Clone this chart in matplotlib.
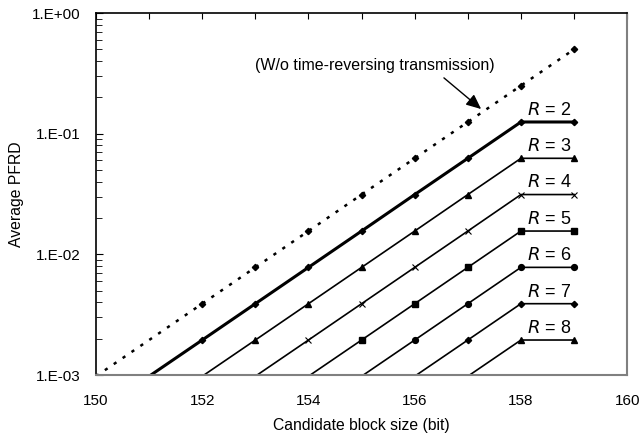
import matplotlib
matplotlib.use("Agg")
from matplotlib import pyplot as plt
from matplotlib.ticker import FixedLocator, FixedFormatter, LogLocator, NullFormatter

plt.rcParams['font.family'] = ['Liberation Sans', 'DejaVu Sans']

blockSize = [150, 151, 152, 153, 154, 155, 156, 157, 158, 159]
woTimeRev = [0.000977, 0.00195, 0.0039, 0.0078, 0.0156, 0.0313, 0.0625, 0.125, 0.25, 0.5]
R2 = [0.000488, 0.000977, 0.00195, 0.0039, 0.0078, 0.0156, 0.0313, 0.0625, 0.125, 0.125]
R3 = [0.000244, 0.000488, 0.000977, 0.00195, 0.0039, 0.0078, 0.0156, 0.0313, 0.0625, 0.0625]
R4 = [0.000122, 0.000244, 0.000488, 0.000977, 0.00195, 0.0039, 0.0078, 0.0156, 0.0313, 0.0313]
R5 = [0.000061, 0.000122, 0.000244, 0.000488, 0.000977, 0.00195, 0.0039, 0.0078, 0.0156, 0.0156]
R6 = [0.000031, 0.000061, 0.000122, 0.000244, 0.000488, 0.000977, 0.00195, 0.0039, 0.0078, 0.0078]
R7 = [0.000015, 0.000031, 0.000061, 0.000122, 0.000244, 0.000488, 0.000977, 0.00195, 0.0039, 0.0039]
R8 = [0.0000076, 0.000015, 0.000031, 0.000061, 0.000122, 0.000244, 0.000488, 0.000977, 0.00195, 0.00195]
rNames = ["2", "3", "4", "5", "6", "7", "8"]
rSeries = [R2, R3, R4, R5, R6, R7, R8]
rMarkers = ["D", "^", "x", "s", "o", "D", "^"]
rMsize = [3.2, 5, 5, 4.5, 4.2, 3.2, 5]
xTicks = [150, 151, 152, 153, 154, 155, 156, 157, 158, 159, 160]
xLabels = ["150", "", "152", "", "154", "", "156", "", "158", "", "160"]
yTicks = [0.001, 0.01, 0.1, 1.0]
yLabels = ["1.E-03", "1.E-02", "1.E-01", "1.E+00"]

def visible(vals):
    return [i for i, v in enumerate(vals) if v >= 0.001]

fig = plt.figure(figsize=(6.4, 4.38), dpi=100)
ax = fig.add_axes([0.15, 0.1438, 0.83, 0.8265])

ax.plot(blockSize, woTimeRev, color="black", lw=1.8, linestyle=(0, (1.3, 3.0)),
        marker="D", ms=3.2, markevery=visible(woTimeRev)[1:])

for i in range(len(rSeries)):
    vals = rSeries[i]
    lw = 2.2 if i == 0 else 1.2
    mew = 0.8 if rMarkers[i] == "x" else 1
    ax.plot(blockSize, vals, color="black", lw=lw, marker=rMarkers[i], ms=rMsize[i],
            mew=mew, markevery=visible(vals))
    ax.text(158.53, vals[-1] * 1.06, "$R$ = " + rNames[i], ha="center", va="bottom", fontsize=13)

# label + arrow pointing to the dotted curve
ax.text(155.24, 0.364, "(W/o time-reversing transmission)", ha="center", va="center", fontsize=11.5)
ax.annotate("", xy=(157.25, 0.16), xytext=(156.55, 0.29),
            arrowprops=dict(arrowstyle="-|>,head_length=0.9,head_width=0.4", color="black", lw=1,
                            shrinkA=0, shrinkB=0))

ax.set_xlim(150, 160)
ax.set_yscale("log")
ax.set_ylim(0.001, 1.0)
ax.xaxis.set_major_locator(FixedLocator(xTicks))
ax.xaxis.set_major_formatter(FixedFormatter(xLabels))
ax.tick_params(axis="x", bottom=False, top=True, direction="in", length=4, labelsize=11, pad=14)
ax.yaxis.set_major_locator(FixedLocator(yTicks))
ax.yaxis.set_major_formatter(FixedFormatter(yLabels))
ax.yaxis.set_minor_locator(LogLocator(base=10, subs=range(2, 10)))
ax.yaxis.set_minor_formatter(NullFormatter())
ax.tick_params(axis="y", which="major", direction="in", length=5, labelsize=11, pad=11)
ax.tick_params(axis="y", which="minor", direction="in", length=4)

for side in ["right", "bottom"]:
    ax.spines[side].set_color("#808080")
    ax.spines[side].set_linewidth(1.5)
for side in ["top", "left"]:
    ax.spines[side].set_linewidth(1.2)

ax.set_xlabel("Candidate block size (bit)", fontsize=11.3, labelpad=7)
ax.set_ylabel("Average PFRD", fontsize=11.3, labelpad=6)

plt.savefig("out.png", dpi=100)
